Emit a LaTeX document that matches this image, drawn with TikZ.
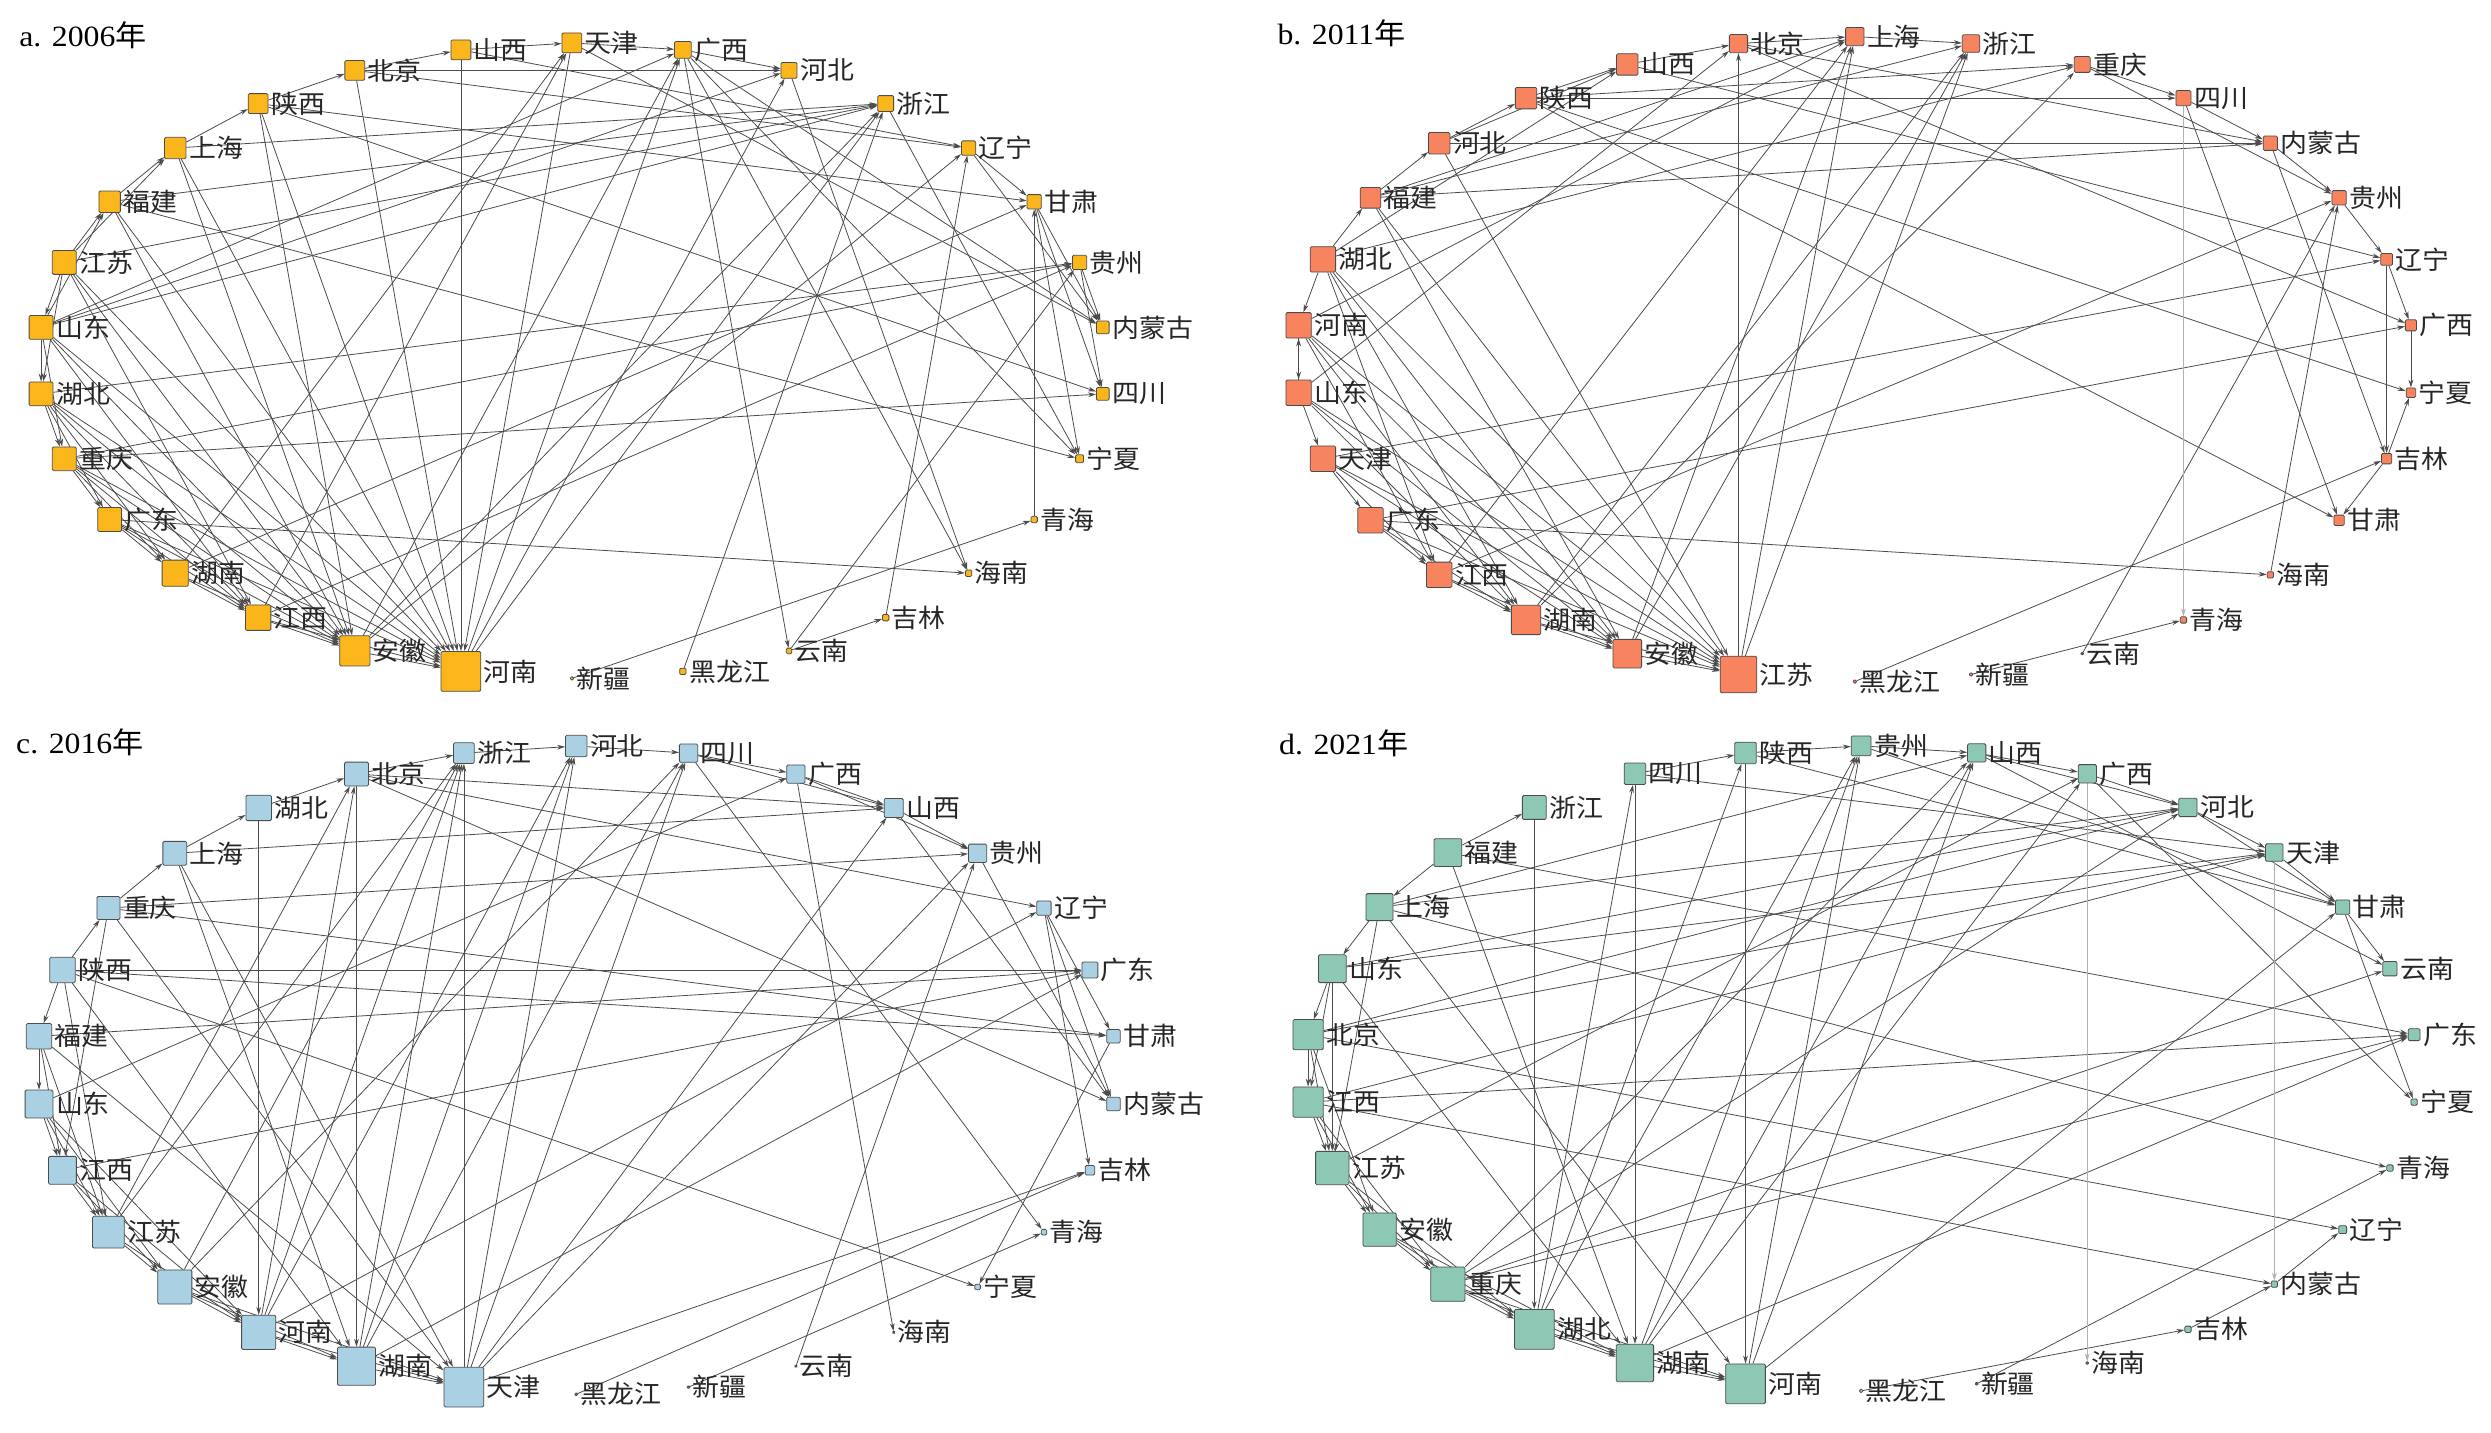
\documentclass[tikz,border=0pt]{standalone}
\usepackage{fontspec}
\setmainfont[FakeStretch=1.08]{Liberation Serif}
\newfontfamily\cjk[FakeStretch=1.06]{Noto Sans CJK SC}
\usetikzlibrary{arrows.meta,backgrounds}
\definecolor{cola}{HTML}{FBB61B}
\definecolor{colb}{HTML}{F7845E}
\definecolor{colc}{HTML}{A9D0E3}
\definecolor{cold}{HTML}{8CC8B4}
\tikzset{
 pbox/.style={rectangle, inner sep=0pt, minimum width=#1pt, minimum height=#1pt, rounded corners=0.8pt, draw=black!70, line width=0.5pt},
 plabel/.style={anchor=west, inner sep=0.5pt, text=black!85, font=\cjk\fontsize{16}{16}\selectfont},
 edge/.style={draw=black!70, line width=0.5pt, -{Stealth[length=5pt,width=3pt]}},
 faint/.style={draw=black!30},
 ptitle/.style={anchor=west, inner sep=0pt, font=\fontsize{18.5}{18.5}\selectfont}
}
\newcommand\netpanel[7]{%
 \foreach \ncode/\nlab/\nsz [count=\nidx from 0] in {#7} {
   \pgfmathsetmacro\ang{-90-12*\nidx}
   \node[pbox=\nsz, fill=#6] (#1\ncode) at ({#2+#4*cos(\ang)},{#3-#5*sin(\ang)}) {};
   \node[plabel] (#1\ncode-l) at ([xshift=1pt]#1\ncode.east) {\nlab};
 }}
\newcommand\netedges[2]{%
 \begin{pgfonlayer}{background}
 \foreach \eu/\ev in {#2} \draw[edge] (#1\eu) -- (#1\ev);
 \end{pgfonlayer}}
\newcommand\faintedges[2]{%
 \begin{pgfonlayer}{background}
 \foreach \eu/\ev in {#2} \draw[edge,faint] (#1\eu) -- (#1\ev);
 \end{pgfonlayer}}
\begin{document}
\begin{tikzpicture}[x=1pt,y=-1pt]
\begin{pgfonlayer}{background}
\fill[white] (0,0) rectangle (1568,902);
\end{pgfonlayer}
\useasboundingbox (0,0) rectangle (1568,902);

% titles
\node[ptitle] (ta) at (12,22) {a. 2006{\cjk 年}};
\node[ptitle] (tb) at (804,21) {b. 2011{\cjk 年}};
\node[ptitle] (tc) at (10,467) {c. 2016{\cjk 年}};
\node[ptitle] (td) at (805,468) {d. 2021{\cjk 年}};

% ---------- panel a ----------
\netpanel{a}{360}{227}{336}{200}{cola}{XJ/新疆/2, HEN/河南/25, AH/安徽/19, JX/江西/16, HUN/湖南/16.5, GD/广东/15, CQ/重庆/15, HUB/湖北/15, SD/山东/15, JS/江苏/15, FJ/福建/13.5, SH/上海/13.5, SNX/陕西/12.5, BJ/北京/12.5, SX/山西/12.5, TJ/天津/12.5, GX/广西/10.5, HEB/河北/10, ZJ/浙江/10, LN/辽宁/9, GS/甘肃/9, GZ/贵州/9, NMG/内蒙古/8, SC/四川/8, NX/宁夏/5, QH/青海/4, HAN/海南/4, JL/吉林/4, YN/云南/3.5, HLJ/黑龙江/4}
\netedges{a}{HUN/JX, HUN/AH, JX/AH, JX/HEN, AH/HEN, GD/HUN, GD/JX, GD/AH, CQ/GD, CQ/HUN, CQ/JX, HUB/CQ, HUB/GD, HUB/HUN, SD/HUB, SD/CQ, JS/SD, JS/HUB, SD/FJ, JS/FJ, FJ/SH, JS/SH, SH/SNX, SNX/BJ, BJ/SX, SX/TJ, TJ/GX, GX/HEB, BJ/HEB,
HUB/HEN, SD/HEN, JS/HEN, FJ/HEN, SH/HEN, CQ/HEN, GD/HEN, SNX/HEN, BJ/HEN, SX/HEN, TJ/HEN,
SH/AH, FJ/AH, JS/AH, SD/AH, HUB/AH, CQ/AH, SD/JX, JS/JX, HUB/JX, SNX/AH,
HEN/GX, HEN/HEB, HEN/ZJ, AH/GX, AH/ZJ, AH/LN, JX/TJ, HUN/GS, HUN/TJ,
SD/ZJ, JS/ZJ, FJ/ZJ, SH/ZJ, SD/GX, SD/HEB, HUB/GZ, CQ/GZ, CQ/SC, GD/HAN, JX/GZ,
BJ/LN, SNX/GS, SNX/SC, FJ/NX, SX/LN, TJ/NMG, GX/NMG, GX/NX, GX/HAN, HEB/HAN, ZJ/NX,
LN/GS, LN/NMG, GS/NMG, GS/NX, GS/SC, GZ/SC, GZ/NMG, QH/GS, JL/LN,
XJ/QH, YN/JL, GX/YN, YN/GZ, HLJ/ZJ}

% ---------- panel b ----------
\netpanel{b}{1167.5}{226}{352}{203}{colb}{HLJ/黑龙江/2, JS/江苏/23, AH/安徽/18, HUN/湖南/18.5, JX/江西/16, GD/广东/16, TJ/天津/16, SD/山东/16, HEN/河南/16, HUB/湖北/16, FJ/福建/13, HEB/河北/13.5, SNX/陕西/13.5, SX/山西/13.5, BJ/北京/11.5, SH/上海/11.5, ZJ/浙江/11, CQ/重庆/10, SC/四川/9.5, NMG/内蒙古/9, GZ/贵州/9, LN/辽宁/7.5, GX/广西/7, NX/宁夏/6, JL/吉林/6.5, GS/甘肃/6.5, HAN/海南/4, QH/青海/4, YN/云南/1.5, XJ/新疆/2}
\netedges{b}{JX/HUN, HUN/AH, AH/JS, JX/AH, HUN/JS, GD/JX, GD/HUN, TJ/GD, SD/TJ, HEN/SD, SD/HEN, HUB/HEN, HUB/FJ, FJ/HEB, HEB/SNX, SNX/SX, SX/BJ, BJ/SH, SH/ZJ, CQ/SC, SC/NMG, NMG/GZ, GZ/LN, LN/GX, JL/NX, GX/NX, JL/GS, LN/JL, NMG/JL,
HEN/JS, SD/JS, HUB/JS, TJ/JS, FJ/JS, HEB/JS, GD/JS,
HEN/AH, SD/AH, HUB/AH, TJ/AH, FJ/AH, SD/HUN, HEN/HUN, HUB/HUN, HUB/JX, HEN/JX, TJ/JX,
JS/SH, JS/ZJ, JS/BJ, AH/SH, AH/ZJ, HUN/ZJ, HUN/CQ, JX/SH, HUB/SX, SD/BJ, HEN/SH, FJ/ZJ, HUB/CQ, FJ/SH, HEB/SX,
HEB/NMG, SNX/SC, SNX/CQ, BJ/NMG, SX/LN, SNX/NX, SNX/GS, SC/GS, TJ/LN, GD/GX, GD/HAN, JX/GZ, HLJ/JL, XJ/QH, YN/GZ, HAN/GZ, FJ/NMG, BJ/GX, CQ/GZ}
\faintedges{b}{SC/QH}

% ---------- panel c ----------
\netpanel{c}{362.7}{673.6}{340}{204}{colc}{HLJ/黑龙江/1.5, TJ/天津/25, HUN/湖南/24, HEN/河南/21.5, AH/安徽/21.5, JS/江苏/20, JX/江西/17.5, SD/山东/17.5, FJ/福建/16, SNX/陕西/16, CQ/重庆/14.5, SH/上海/15, HUB/湖北/16, BJ/北京/15, ZJ/浙江/13, HEB/河北/13.5, SC/四川/11.5, GX/广西/11.5, SX/山西/12, GZ/贵州/11.5, LN/辽宁/9, GD/广东/10, GS/甘肃/8.5, NMG/内蒙古/8.5, JL/吉林/6, QH/青海/3.5, NX/宁夏/3.5, HAN/海南/1, YN/云南/1, XJ/新疆/1.5}
\netedges{c}{JS/AH, AH/HEN, HEN/HUN, HUN/TJ, JX/JS, SD/JX, FJ/SD, SNX/FJ, SNX/CQ, CQ/SH, SH/HUB, HUB/BJ, BJ/ZJ, ZJ/HEB, HEB/SC, SC/GX, GX/SX, SC/SX, SX/GZ, GX/GZ,
JX/AH, JX/HEN, SD/JS, SD/AH, FJ/JX, FJ/JS, JS/HEN, AH/HUN, HEN/TJ, AH/TJ, SNX/JS, CQ/JX, SD/HEN,
HUB/HEN, BJ/HUN, SH/HUN, SH/TJ, CQ/TJ, SNX/HUN, FJ/TJ,
TJ/ZJ, TJ/HEB, TJ/SC, TJ/SX, TJ/GZ, HUN/ZJ, HUN/HEB, HUN/SC, HEN/ZJ, HEN/HEB, HEN/BJ, AH/ZJ, AH/SC, JS/BJ, JS/ZJ,
BJ/SX, BJ/LN, BJ/NMG, CQ/GZ, CQ/GS, SNX/GS, SNX/GD, FJ/GD, JX/GD, SNX/NX, GX/HAN, SC/QH, YN/GZ, LN/JL, LN/NMG, GS/NX, HLJ/JL, XJ/QH, TJ/JL, SH/SX, LN/GS, GZ/NMG, SD/GX, HUN/GD, HEN/LN, SX/NMG}

% ---------- panel d ----------
\netpanel{d}{1171.5}{672.5}{350}{203}{cold}{HLJ/黑龙江/2, HEN/河南/25, HUN/湖南/23.5, HUB/湖北/25, CQ/重庆/21.5, AH/安徽/21, JS/江苏/21, JX/江西/19, BJ/北京/19, SD/山东/17.5, SH/上海/17, FJ/福建/17.5, ZJ/浙江/15, SC/四川/13.5, SNX/陕西/13.5, GZ/贵州/12.5, SX/山西/11.5, GX/广西/11.5, HEB/河北/11.5, TJ/天津/11, GS/甘肃/9, YN/云南/9, GD/广东/7.5, NX/宁夏/4, QH/青海/4, LN/辽宁/5, NMG/内蒙古/4, JL/吉林/4, HAN/海南/1.5, XJ/新疆/1.5}
\netedges{d}{HUB/HUN, HUN/HEN, CQ/HUB, AH/CQ, JS/AH, JX/JS, BJ/JX, SD/BJ, SH/SD, FJ/SH, FJ/ZJ, SC/SNX, SNX/GZ, GZ/SX, SX/GX, GX/HEB, SX/HEB, HEB/TJ, TJ/GS, GS/YN, GS/NX, JL/NMG, HLJ/JL, NMG/LN,
CQ/HUN, AH/HUB, JS/CQ, JX/AH, BJ/JS, SD/JX, JX/CQ, JS/HUB, AH/HUN, HUB/HEN, CQ/HEN, SH/JS, BJ/AH, SD/JS,
ZJ/HUB, SNX/HEN,
HEN/GZ, HEN/SX, HUN/GZ, HUN/SX, HUN/GX, HUB/SC, HUB/SNX, HUB/GZ, CQ/SX, CQ/HEB, JS/GX,
SD/HEB, SD/TJ, BJ/HEB, BJ/TJ, SH/SX, JX/TJ, SH/HEB,
SC/TJ, SNX/GS, SX/YN, GX/NX, FJ/GD, BJ/LN, JX/NMG, JX/GD, SH/QH, CQ/GD, CQ/YN, HUN/GD, XJ/QH, HEB/GS, SH/HEN, FJ/HUN, SD/HUN, GZ/GS, SC/HUN, HEN/GS}
\faintedges{d}{TJ/NMG, GX/HAN}
\end{tikzpicture}
\end{document}
